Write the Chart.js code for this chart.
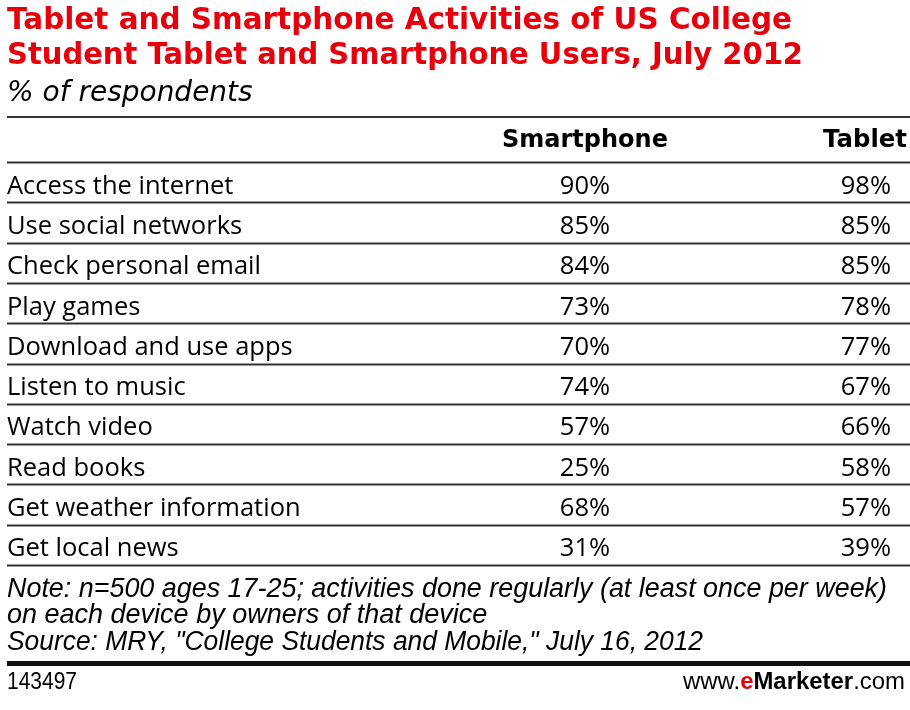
<!DOCTYPE html>
<html>
<head>
<meta charset="utf-8">
<script src="https://cdn.jsdelivr.net/npm/chart.js@4.4.1/dist/chart.umd.min.js"></script>
<style>
  html, body { margin: 0; padding: 0; background: #fff; }
  #wrap { width: 910px; height: 710px; }
</style>
</head>
<body>
<div id="wrap"><canvas id="tableChart" width="910" height="710"></canvas></div>
<script>
// table data
var activities = [
  "Access the internet",
  "Use social networks",
  "Check personal email",
  "Play games",
  "Download and use apps",
  "Listen to music",
  "Watch video",
  "Read books",
  "Get weather information",
  "Get local news"
];
var columns = ["Smartphone", "Tablet"];
var smartphoneValues = [90, 85, 84, 73, 70, 74, 57, 25, 68, 31];
var tabletValues = [98, 85, 85, 78, 77, 67, 66, 58, 57, 39];

var titleLines = [
  "Tablet and Smartphone Activities of US College",
  "Student Tablet and Smartphone Users, July 2012"
];
var subtitle = "% of respondents";
var noteLines = [
  "Note: n=500 ages 17-25; activities done regularly (at least once per week)",
  "on each device by owners of that device",
  "Source: MRY, \"College Students and Mobile,\" July 16, 2012"
];
var chartId = "143497";

var RED = "#e6000b";
var LINE = "#333";

var tablePlugin = {
  id: "tableText",
  afterDatasetsDraw: function (chart) {
    var ctx = chart.ctx;
    var area = chart.chartArea;
    var yScale = chart.scales.y;
    var left = 7, right = 910;
    var step = (area.bottom - area.top) / activities.length;

    ctx.save();
    ctx.textBaseline = "alphabetic";

    // title
    ctx.fillStyle = RED;
    ctx.font = "bold 30px 'DejaVu Sans'";
    ctx.textAlign = "left";
    ctx.fillText(titleLines[0], left, 29, 785);
    ctx.fillText(titleLines[1], left, 64, 796);

    ctx.fillStyle = "#000";
    ctx.font = "oblique 28px 'DejaVu Sans'";
    ctx.fillText(subtitle, left, 101, 251);

    // horizontal rules
    ctx.strokeStyle = LINE;
    function hline(y, w) {
      ctx.lineWidth = w;
      ctx.beginPath();
      ctx.moveTo(left, y);
      ctx.lineTo(right, y);
      ctx.stroke();
    }
    hline(117, 2);
    for (var i = 0; i <= activities.length; i++) {
      var yy = yScale.getPixelForValue(i) - step / 2;
      if (i === activities.length) yy = yScale.getPixelForValue(i - 1) + step / 2;
      hline(Math.round(yy) + 0.5, 2);
    }
    ctx.fillStyle = "#111";
    ctx.fillRect(left, 661, right - left, 5);

    // column headers
    var sMeta = chart.getDatasetMeta(0).data;
    var tMeta = chart.getDatasetMeta(1).data;
    ctx.fillStyle = "#000";
    ctx.font = "bold 25px 'DejaVu Sans'";
    ctx.textAlign = "center";
    ctx.fillText(columns[0], sMeta[0].x, 147, 166);
    ctx.textAlign = "right";
    ctx.fillText(columns[1], 907, 147, 84);

    // row labels + values
    ctx.font = "25.5px 'Open Sans'";
    for (var r = 0; r < activities.length; r++) {
      var base = yScale.getPixelForValue(r) + 11.5;
      ctx.textAlign = "left";
      ctx.fillText(activities[r], left, base);
      ctx.textAlign = "center";
      ctx.fillText(smartphoneValues[r] + "%", sMeta[r].x, base);
      ctx.fillText(tabletValues[r] + "%", tMeta[r].x, base);
    }

    // notes
    ctx.textAlign = "left";
    ctx.font = "italic 27px 'Liberation Sans'";
    ctx.fillText(noteLines[0], left, 597, 880);
    ctx.fillText(noteLines[1], left, 623, 481);
    ctx.fillText(noteLines[2], left, 650, 696);

    // footer
    ctx.font = "23px 'Liberation Sans'";
    ctx.fillText(chartId, left, 689, 70);

    var parts = [
      { t: "www.", f: "23px 'Liberation Sans'", c: "#000" },
      { t: "e", f: "bold 23px 'Liberation Sans'", c: RED },
      { t: "Marketer", f: "bold 23px 'Liberation Sans'", c: "#000" },
      { t: ".com", f: "23px 'Liberation Sans'", c: "#000" }
    ];
    var total = 0;
    parts.forEach(function (p) {
      ctx.font = p.f;
      p.w = ctx.measureText(p.t).width;
      total += p.w;
    });
    var k = 222 / total;
    ctx.save();
    ctx.translate(905 - 222, 689);
    ctx.scale(k, 1);
    var x = 0;
    parts.forEach(function (p) {
      ctx.font = p.f;
      ctx.fillStyle = p.c;
      ctx.fillText(p.t, x, 0);
      x += p.w;
    });
    ctx.restore();

    ctx.restore();
  }
};

new Chart("tableChart", {
  type: "scatter",
  data: {
    datasets: [
      {
        label: columns[0],
        data: smartphoneValues.map(function (v, i) { return { x: 1, y: activities[i] }; }),
        pointRadius: 0
      },
      {
        label: columns[1],
        data: tabletValues.map(function (v, i) { return { x: 2, y: activities[i] }; }),
        pointRadius: 0
      }
    ]
  },
  options: {
    responsive: false,
    animation: false,
    events: [],
    layout: { padding: { top: 162, bottom: 145, left: 7, right: 0 } },
    plugins: {
      legend: { display: false },
      tooltip: { enabled: false }
    },
    scales: {
      x: { type: "linear", min: -1.057, max: 2.157, display: false },
      y: { type: "category", labels: activities, offset: true, display: false }
    }
  },
  plugins: [tablePlugin]
});
</script>
</body>
</html>
